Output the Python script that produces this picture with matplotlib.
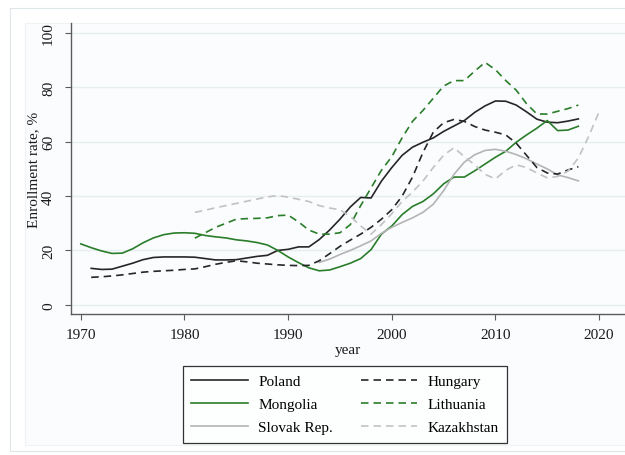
import matplotlib
matplotlib.use("Agg")
import matplotlib.pyplot as plt
from matplotlib.patches import Rectangle

plt.rcParams["font.family"] = ["Liberation Serif", "DejaVu Serif"]

# Gross tertiary enrollment rate, %
poland_years = list(range(1971, 2019))
poland = [13.4, 13.0, 13.1, 14.2, 15.3, 16.6, 17.4, 17.6, 17.6, 17.6, 17.5, 17.0,
          16.5, 16.5, 16.6, 17.2, 17.8, 18.2, 20.0, 20.4, 21.3, 21.3, 24.0, 27.5,
          31.5, 36.0, 39.5, 39.3, 45.5, 50.5, 55.0, 58.0, 59.8, 61.4, 63.8, 65.8,
          67.8, 70.8, 73.2, 75.0, 74.9, 73.5, 71.0, 68.3, 67.2, 67.0, 67.6, 68.4]

mongolia_years = list(range(1970, 2019))
mongolia = [22.4, 21.0, 19.8, 18.9, 19.0, 20.6, 22.8, 24.6, 25.8, 26.4, 26.5, 26.3,
            25.5, 25.0, 24.6, 23.9, 23.5, 22.9, 22.0, 20.0, 17.6, 15.5, 13.6, 12.5,
            12.8, 14.0, 15.3, 17.0, 20.3, 26.0, 29.0, 33.2, 36.2, 38.0, 40.8, 44.5,
            47.0, 47.0, 49.3, 51.8, 54.3, 56.5, 59.8, 62.5, 65.0, 67.8, 64.1, 64.3,
            65.7]

slovak_years = list(range(1993, 2019))
slovak = [15.6, 16.8, 18.5, 20.0, 21.7, 23.5, 26.3, 28.5, 30.3, 32.0, 34.0, 37.0,
          42.0, 48.0, 52.5, 55.2, 56.8, 57.2, 56.5, 55.3, 53.7, 51.8, 50.0, 47.8,
          46.8, 45.6]

hungary_years = list(range(1971, 2019))
hungary = [10.1, 10.3, 10.6, 11.0, 11.5, 12.0, 12.3, 12.5, 12.7, 13.0, 13.2, 14.0,
           14.9, 15.6, 16.2, 15.8, 15.3, 15.0, 14.7, 14.5, 14.4, 14.5, 16.2, 18.8,
           21.5, 23.8, 26.0, 28.5, 31.5, 35.0, 40.0, 47.0, 56.0, 63.5, 67.0, 68.2,
           67.5, 65.6, 64.3, 63.5, 62.5, 59.5, 55.0, 50.5, 48.5, 48.1, 49.6, 50.8]

lithuania_years = list(range(1981, 2019))
lithuania = [24.5, 26.5, 28.5, 30.0, 31.5, 31.7, 31.8, 32.0, 32.8, 33.0, 30.5, 27.5,
             26.0, 26.0, 26.5, 29.5, 36.5, 43.0, 49.5, 54.5, 61.5, 67.5, 71.5, 76.0,
             80.5, 82.5, 82.5, 86.0, 89.2, 86.5, 82.5, 79.0, 74.0, 70.2, 70.2, 71.2,
             72.2, 73.5]

kazakhstan_years = list(range(1981, 2021))
kazakhstan = [34.0, 34.8, 35.7, 36.5, 37.3, 38.1, 38.9, 39.7, 40.2, 39.6, 38.8, 38.0,
              36.5, 35.6, 35.0, 32.5, 29.0, 26.0, 29.5, 33.5, 38.0, 41.5, 45.5, 50.5,
              55.0, 57.8, 54.5, 51.5, 48.0, 46.3, 49.5, 51.5, 50.5, 48.5, 46.7, 47.2,
              49.2, 54.0, 62.0, 71.0]

W, H = 625, 456
FS = 11
fig = plt.figure(figsize=(W / 100, H / 100), dpi=100)
fig.patch.set_facecolor("white")

# Graph region frames (drawn beneath the axes)
fig.patches.append(Rectangle((10 / W, 1 - 452 / H), 1.0, (452 - 9) / H,
                             transform=fig.transFigure, facecolor="white",
                             edgecolor="#dfe6ea", lw=0.8, zorder=-10))
fig.patches.append(Rectangle((25 / W, 1 - 446 / H), 1.0, (446 - 24) / H,
                             transform=fig.transFigure, facecolor="#fafcfd",
                             edgecolor="#eef3f6", lw=0.8, zorder=-9))

ax = fig.add_axes([71 / W, 1 - 315 / H, (W - 71) / W, (315 - 24) / H])
ax.set_facecolor("none")
ax.set_zorder(1)

dash = (4.5, 3.0)
green = "#2a7d2a"
dark = "#262626"
light = "#b4b4b4"

series = [
    (poland_years, poland, "Poland", dark, "-"),
    (mongolia_years, mongolia, "Mongolia", green, "-"),
    (slovak_years, slovak, "Slovak Rep.", light, "-"),
    (hungary_years, hungary, "Hungary", dark, "--"),
    (lithuania_years, lithuania, "Lithuania", green, "--"),
    (kazakhstan_years, kazakhstan, "Kazakhstan", "#c2c2c2", "--"),
]
handles = []
for yrs, vals, name, col, ls in series:
    if ls == "--":
        (h,) = ax.plot(yrs, vals, color=col, lw=1.2, dashes=dash, label=name)
    else:
        (h,) = ax.plot(yrs, vals, color=col, lw=1.2, label=name)
    handles.append(h)

ax.set_xlim(1969.05, 2022.5)
ax.set_ylim(-3.4, 103.7)
ax.set_xticks(range(1970, 2021, 10))
ax.set_yticks(range(0, 101, 20))
ax.yaxis.grid(True, color="#e7eef2", lw=1.0)
ax.set_axisbelow(True)

for s in ("top", "right"):
    ax.spines[s].set_visible(False)
for s in ("left", "bottom"):
    ax.spines[s].set_color("#5c5c5c")
    ax.spines[s].set_linewidth(1.0)

ax.tick_params(axis="both", direction="out", length=4, width=0.8, color="#5c5c5c",
               labelsize=FS, labelcolor="#1a1a1a")
ax.tick_params(axis="y", pad=7.5)
ax.tick_params(axis="x", pad=6)
for lab in ax.get_yticklabels():
    lab.set_rotation(90)
    lab.set_va("center")

ax.set_xlabel("year", fontsize=FS, color="#1a1a1a", labelpad=1.5)
ax.set_ylabel("Enrollment rate, %", fontsize=FS, color="#1a1a1a")
ax.yaxis.set_label_coords(-0.056, 0.5)

leg = ax.legend(handles=handles, ncol=2, loc="upper center",
                bbox_to_anchor=(345 / W, 1 - 367 / H), bbox_transform=fig.transFigure,
                borderaxespad=0, fontsize=FS, frameon=True, fancybox=False,
                edgecolor="black", handlelength=3.7, handletextpad=0.7,
                columnspacing=1.8, labelspacing=0.62, borderpad=0.55)
leg.get_frame().set_linewidth(0.9)
leg.get_frame().set_facecolor("white")

fig.savefig("out.png", dpi=100)
